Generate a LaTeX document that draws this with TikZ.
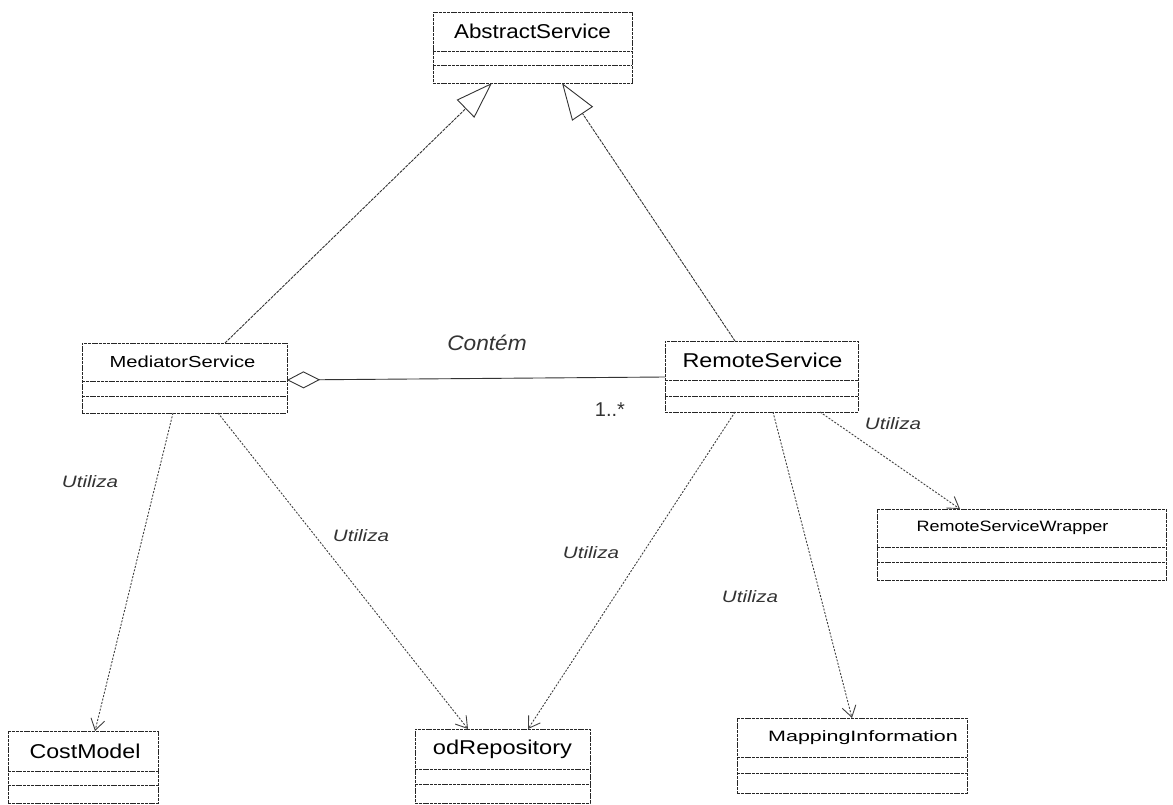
\documentclass[tikz,border=0pt]{standalone}
\usepackage{fontspec}
\usepackage{graphicx}
\setmainfont{Liberation Sans}
\usetikzlibrary{arrows.meta}
\newcommand\cname[3]{\fontsize{#1}{#1}\selectfont\scalebox{#2}[1]{#3}}
\newcommand\umlclass[9]{%
  \node[clsbox, anchor=north west, minimum width={(#4-#2)*1pt}, minimum height={(#5-#3)*1pt}] (#1) at (#2,#3) {};
  \draw[clsline] (#2,#6) -- (#4,#6);
  \draw[clsline] (#2,#7) -- (#4,#7);
  \node[inner sep=0pt] (#1-t) at ({(#2+#4)/2+#8},{(#3+#6)/2}) {#9};
}
\tikzset{
  clsbox/.style={draw=black!85, line width=0.9pt, dash pattern=on 3pt off 0.8pt, inner sep=0pt, outer sep=0pt, fill=white},
  clsline/.style={draw=black!85, line width=0.9pt, dash pattern=on 3pt off 0.8pt},
  gen/.style={draw=black!80, line width=0.9pt, dash pattern=on 3pt off 1pt, -{Triangle[open, length=37pt, width=25pt, line width=0.9pt]}},
  dep/.style={draw=black!75, line width=0.9pt, dash pattern=on 2pt off 1.5pt, -{Straight Barb[length=11pt, width=14pt, line width=0.9pt]}},
  agg/.style={draw=black!80, line width=0.9pt, {Diamond[open, length=33pt, width=17pt, line width=0.9pt]}-},
  lbl/.style={inner sep=0pt, text=black!80, font=\fontsize{16.5}{16.5}\selectfont\itshape},
}
\begin{document}
\begin{tikzpicture}[x=1pt, y=-1pt]
\useasboundingbox (0,0) rectangle (1173,805);
\umlclass{as}{433}{12}{632}{83}{51}{65}{0}{\cname{20}{1.12}{AbstractService}}
\umlclass{med}{82}{343}{287}{413}{381}{396}{-2}{\cname{16}{1.26}{MediatorService}}
\umlclass{rs}{665}{341}{858}{412}{380}{396}{1}{\cname{20}{1.17}{RemoteService}}
\umlclass{rsw}{877}{509}{1166}{580}{547}{562}{-9}{\cname{15}{1.2}{RemoteServiceWrapper}}
\umlclass{cm}{8}{731}{158}{803}{771}{785}{2}{\cname{20}{1.16}{CostModel}}
\umlclass{od}{415}{729}{590}{803}{769}{784}{0}{\cname{20}{1.18}{odRepository}}
\umlclass{mi}{737}{718}{967}{793}{757}{773}{11}{\cname{15}{1.43}{MappingInformation}}

% generalizations
\draw[gen] ([xshift=143pt]med.north west) -- ([xshift=59pt]as.south west);
\draw[gen] ([xshift=70pt]rs.north west) -- ([xshift=129pt]as.south west);

% aggregation
\draw[agg] ([yshift=-37pt]med.north east) -- ([yshift=-36pt]rs.north west);
\node[inner sep=0pt, text=black!80, font=\fontsize{21}{21}\selectfont\itshape] (cont) at (487,343) {\scalebox{1.08}[1]{Contém}};
\node[inner sep=0pt, text=black!80, font=\fontsize{20}{20}\selectfont] (mult) at (610,410) {1..*};

% dependencies
\draw[dep] ([xshift=91pt]med.south west) -- ([xshift=87pt]cm.north west);
\draw[dep] ([xshift=136pt]med.south west) -- ([xshift=53pt]od.north west);
\draw[dep] ([xshift=70pt]rs.south west) -- ([xshift=113pt]od.north west);
\draw[dep] ([xshift=108pt]rs.south west) -- ([xshift=115pt]mi.north west);
\draw[dep] ([xshift=155pt]rs.south west) -- ([xshift=83pt]rsw.north west);

\node[lbl] (u1) at (90,482) {\scalebox{1.25}[1]{Utiliza}};
\node[lbl] (u2) at (361,536) {\scalebox{1.25}[1]{Utiliza}};
\node[lbl] (u3) at (591,553) {\scalebox{1.25}[1]{Utiliza}};
\node[lbl] (u4) at (750,597) {\scalebox{1.25}[1]{Utiliza}};
\node[lbl] (u5) at (893,424) {\scalebox{1.25}[1]{Utiliza}};
\end{tikzpicture}
\end{document}
